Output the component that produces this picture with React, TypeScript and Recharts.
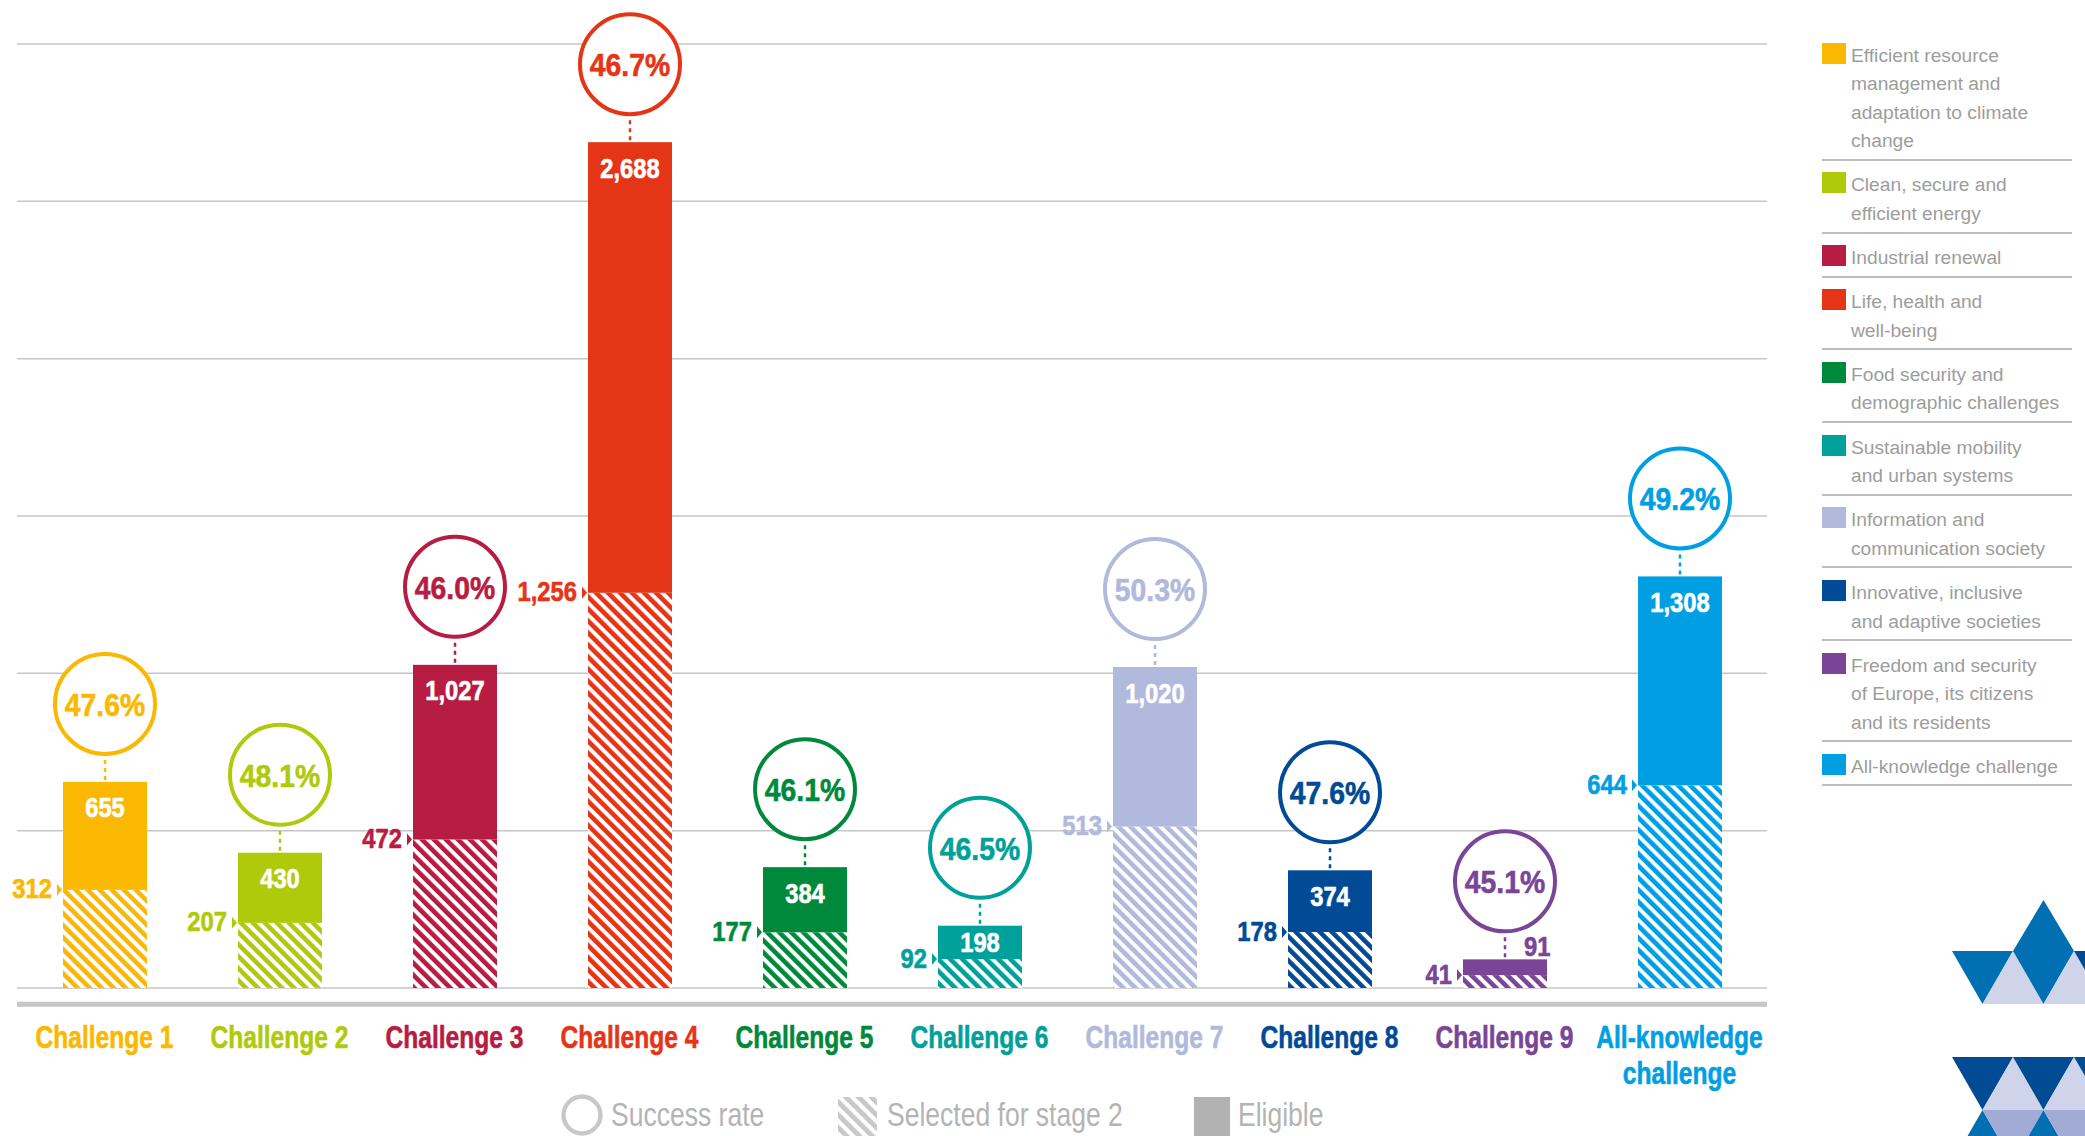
import React from "react";
import { BarChart, Bar, XAxis, YAxis, CartesianGrid, ReferenceLine } from "recharts";

// values
const categories = [
  "Challenge 1",
  "Challenge 2",
  "Challenge 3",
  "Challenge 4",
  "Challenge 5",
  "Challenge 6",
  "Challenge 7",
  "Challenge 8",
  "Challenge 9",
  "All-knowledge challenge",
];
const eligible = [655, 430, 1027, 2688, 384, 198, 1020, 374, 91, 1308];
const selected = [312, 207, 472, 1256, 177, 92, 513, 178, 41, 644];
const successRate = [47.6, 48.1, 46.0, 46.7, 46.1, 46.5, 50.3, 47.6, 45.1, 49.2];
const colors = [
  "#FAB800",
  "#AFCA0B",
  "#B71C42",
  "#E53517",
  "#00893A",
  "#00A19A",
  "#B1B9DC",
  "#004A96",
  "#7A4597",
  "#009FE3",
];
const legendLabels = [
  ["Efficient resource", "management and", "adaptation to climate", "change"],
  ["Clean, secure and", "efficient energy"],
  ["Industrial renewal"],
  ["Life, health and", "well-being"],
  ["Food security and", "demographic challenges"],
  ["Sustainable mobility", "and urban systems"],
  ["Information and", "communication society"],
  ["Innovative, inclusive", "and adaptive societies"],
  ["Freedom and security", "of Europe, its citizens", "and its residents"],
  ["All-knowledge challenge"],
];
const gridTicks = [500, 1000, 1500, 2000, 2500, 3000];

const data = categories.map((name, i) => ({
  name,
  selected: selected[i],
  rest: eligible[i] - selected[i],
}));

const SANS = '"Liberation Sans", Arial, sans-serif';
const fmt = (n: number) => n.toLocaleString("en-US");

// no condensed font installed, so squeeze Liberation Sans horizontally
function NText({ x, y, sx, anchor = "start", size, weight = 700, fill, children }: any) {
  return (
    <text transform={`translate(${x} ${y}) scale(${sx} 1)`} x={0} y={0} textAnchor={anchor}
      dominantBaseline="central" fill={fill} fontFamily={SANS} fontWeight={weight} fontSize={size}
      stroke={weight >= 700 ? fill : "none"} strokeWidth={0.6}>
      {children}
    </text>
  );
}

function SelectedBar(props: any) {
  const { x, y, width, height, index } = props;
  const c = colors[index];
  return (
    <g>
      <rect x={x} y={y} width={width} height={height} fill={`url(#hatch-${index})`} />
      <polygon points={`${x - 6},${y - 6} ${x - 1},${y} ${x - 6},${y + 6}`} fill={c} />
      <NText x={x - 11} y={y - 1} sx={0.88} anchor="end" size={27} fill={c}>
        {fmt(selected[index])}
      </NText>
    </g>
  );
}

function EligibleBar(props: any) {
  const { x, y, width, height, index } = props;
  const c = colors[index];
  const cx = x + width / 2;
  const r = 50;
  const cy = y - 78;
  const small = height < 28;
  return (
    <g>
      <rect x={x} y={y} width={width} height={height} fill={c} />
      <line x1={cx} x2={cx} y1={cy + r + 6} y2={y - 1} stroke={c} strokeWidth={2.5} strokeDasharray="4 4" />
      <circle cx={cx} cy={cy} r={r} fill="#fff" stroke={c} strokeWidth={4} />
      <NText x={cx} y={cy + 1} sx={0.9} anchor="middle" size={31.5} fill={c}>
        {successRate[index].toFixed(1)}%
      </NText>
      {small ? (
        <NText x={cx + 19} y={y - 13} sx={0.88} size={27} fill={c}>
          {fmt(eligible[index])}
        </NText>
      ) : (
        <NText x={cx} y={y + Math.min(26, height / 2)} sx={0.88} anchor="middle" size={27} fill="#fff">
          {fmt(eligible[index])}
        </NText>
      )}
    </g>
  );
}

function CategoryTick(props: any) {
  const { x, y, payload } = props;
  const i = payload.index;
  const label: string = payload.value;
  const lines = label === "All-knowledge challenge" ? ["All-knowledge", "challenge"] : [label];
  return (
    <g>
      {lines.map((l, k) => (
        <NText key={k} x={x} y={y + 49 + k * 36} sx={0.78} anchor="middle" size={31.5} fill={colors[i]}>
          {l}
        </NText>
      ))}
    </g>
  );
}

function Patterns() {
  return (
    <svg width={0} height={0} style={{ position: "absolute" }}>
      <defs>
        {colors.map((c, i) => (
          <pattern key={i} id={`hatch-${i}`} patternUnits="userSpaceOnUse" width={8.5} height={8.5}
            patternTransform="rotate(-45)">
            <rect x={0} y={0} width={8.5} height={8.5} fill="#fff" />
            <rect x={0} y={0} width={4.6} height={8.5} fill={c} />
          </pattern>
        ))}
        <pattern id="hatch-legend" patternUnits="userSpaceOnUse" width={9} height={9}
          patternTransform="rotate(-45)">
          <rect x={0} y={0} width={9} height={9} fill="#fff" />
          <rect x={0} y={0} width={4.8} height={9} fill="#C8C8C8" />
        </pattern>
      </defs>
    </svg>
  );
}

function SideLegend() {
  return (
    <div style={{ position: "absolute", left: 1822, top: 31, width: 250, fontFamily: SANS, fontSize: 19.2, color: "#9D9D9C" }}>
      {legendLabels.map((lines, i) => (
        <div key={i} style={{ display: "flex", paddingTop: 10.5, paddingBottom: 3, borderBottom: "2px solid #BDBDBD" }}>
          <div style={{ width: 24, height: 21, background: colors[i], flexShrink: 0, marginTop: 1 }} />
          <div style={{ marginLeft: 5, lineHeight: "28.6px" }}>
            {lines.map((l, k) => (
              <div key={k} style={{ whiteSpace: "nowrap" }}>{l}</div>
            ))}
          </div>
        </div>
      ))}
    </div>
  );
}

function Decorations() {
  const tri = (pts: number[][], fill: string, k: string) => (
    <polygon key={k} points={pts.map((p) => p.join(",")).join(" ")} fill={fill} />
  );
  const blue = "#0070B3";
  const light = "#CFD4EA";
  const navy = "#004B93";
  const mid = "#A1ABD5";
  const a = 1952, h = 30.5;
  const X = (n: number) => a + n * h;
  const grey = "#B4B4B4";
  return (
    <svg width={2085} height={1136} style={{ position: "absolute", left: 0, top: 0, pointerEvents: "none" }}>
      {/* bottom legend */}
      <circle cx={582} cy={1115} r={18.5} fill="none" stroke="#C8C8C8" strokeWidth={4.3} />
      <NText x={611} y={1114} sx={0.78} size={34} weight={400} fill={grey}>Success rate</NText>
      <rect x={838} y={1097} width={39} height={41} fill="url(#hatch-legend)" />
      <NText x={887} y={1114} sx={0.78} size={34} weight={400} fill={grey}>Selected for stage 2</NText>
      <rect x={1194} y={1097} width={36} height={41} fill="#B2B2B2" />
      <NText x={1238} y={1114} sx={0.78} size={34} weight={400} fill={grey}>Eligible</NText>
      {/* triangles */}
      {tri([[X(3), 900], [X(2), 951], [X(4), 951]], blue, "t0")}
      {tri([[X(0), 951], [X(2), 951], [X(1), 1004]], blue, "t1")}
      {tri([[X(1), 1004], [X(2), 951], [X(3), 1004]], light, "t2")}
      {tri([[X(2), 951], [X(4), 951], [X(3), 1004]], blue, "t3")}
      {tri([[X(3), 1004], [X(4), 951], [X(5), 1004]], light, "t4")}
      {tri([[X(4), 951], [X(6), 951], [X(5), 1004]], navy, "t5")}
      {tri([[X(0), 1057], [X(2), 1057], [X(1), 1110]], navy, "b1")}
      {tri([[X(1), 1110], [X(2), 1057], [X(3), 1110]], light, "b2")}
      {tri([[X(2), 1057], [X(4), 1057], [X(3), 1110]], navy, "b3")}
      {tri([[X(3), 1110], [X(4), 1057], [X(5), 1110]], light, "b4")}
      {tri([[X(4), 1057], [X(6), 1057], [X(5), 1110]], navy, "b5")}
      {tri([[X(1), 1110], [X(0), 1163], [X(2), 1163]], blue, "c1")}
      {tri([[X(1), 1110], [X(3), 1110], [X(2), 1163]], mid, "c2")}
      {tri([[X(3), 1110], [X(2), 1163], [X(4), 1163]], blue, "c3")}
      {tri([[X(3), 1110], [X(5), 1110], [X(4), 1163]], mid, "c4")}
      {tri([[X(5), 1110], [X(4), 1163], [X(6), 1163]], blue, "c5")}
    </svg>
  );
}

export default function App() {
  return (
    <div style={{ position: "absolute", left: 0, top: 0, width: 2085, height: 1136, background: "#fff", overflow: "hidden" }}>
      <Patterns />
      <BarChart width={2085} height={1136} data={data} barSize={84}
        margin={{ top: 44, right: 318, left: 17, bottom: 48 }}>
        <CartesianGrid vertical={false} stroke="#C6C6C6" strokeWidth={1.5} />
        <XAxis dataKey="name" height={100} axisLine={false} tickLine={false} tickSize={0} tickMargin={0}
          interval={0} tick={<CategoryTick />} />
        <YAxis hide domain={[0, 3000]} ticks={gridTicks} />
        <ReferenceLine y={-52} ifOverflow="visible" stroke="#C6C6C6" strokeWidth={5} />
        <Bar dataKey="selected" stackId="a" shape={<SelectedBar />} isAnimationActive={false} />
        <Bar dataKey="rest" stackId="a" shape={<EligibleBar />} isAnimationActive={false} />
      </BarChart>
      <SideLegend />
      <Decorations />
    </div>
  );
}
